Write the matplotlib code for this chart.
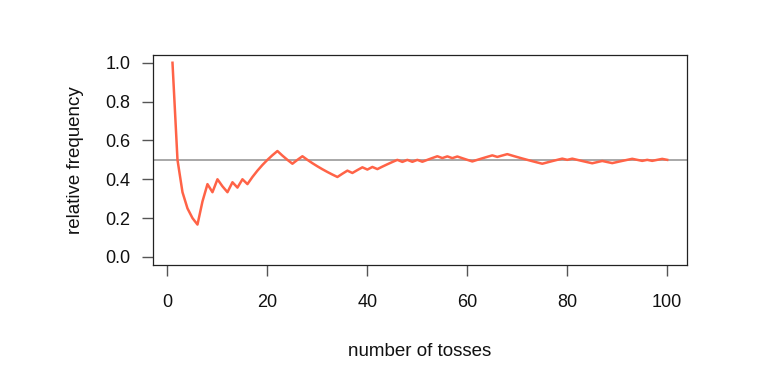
import matplotlib
matplotlib.use("Agg")
import matplotlib.pyplot as plt
import numpy as np

plt.rcParams['font.family'] = ['Liberation Sans', 'DejaVu Sans']

# coin toss outcomes (1 = head, 0 = tail), read from the running frequency
tosses = [1, 0, 0, 0, 0, 0, 1, 1, 0, 1,
          0, 0, 1, 0, 1, 0, 1, 1, 1, 1,
          1, 1, 0, 0, 0, 1, 1, 0, 0, 0,
          0, 0, 0, 0, 1, 1, 0, 1, 1, 0,
          1, 0, 1, 1, 1, 1, 0, 1, 0, 1,
          0, 1, 1, 1, 0, 1, 0, 1, 0, 0,
          0, 1, 1, 1, 1, 0, 1, 1, 0, 0,
          0, 0, 0, 0, 0, 1, 1, 1, 1, 0,
          1, 0, 0, 0, 0, 1, 1, 0, 0, 1,
          1, 1, 1, 0, 0, 1, 0, 1, 1, 0]
n_tosses = np.arange(1, len(tosses) + 1)
rel_freq = np.cumsum(tosses) / n_tosses

x_ticks = [0, 20, 40, 60, 80, 100]
y_ticks = [0.0, 0.2, 0.4, 0.6, 0.8, 1.0]
y_ticklabels = ["0.0", "0.2", "0.4", "0.6", "0.8", "1.0"]

fig = plt.figure(figsize=(7.76, 3.75), dpi=100)
W, H = 776, 375
left, right, top, bottom = 152.7, 687, 55, 264.7
ax = fig.add_axes([left / W, 1 - bottom / H, (right - left) / W, (bottom - top) / H])

ax.axhline(0.5, color='#999999', lw=1.2, zorder=1)
ax.plot(n_tosses, rel_freq, color='#FF6347', lw=1.8, zorder=2)

ax.set_xlim(-2.96, 103.96)
ax.set_ylim(-0.04, 1.04)
ax.set_xticks(x_ticks)
ax.set_yticks(y_ticks)
ax.set_yticklabels(y_ticklabels)
ax.tick_params(axis='both', direction='out', length=8, width=1, color='#555555',
               labelsize=13, labelcolor='#111111')
ax.tick_params(axis='x', pad=13)
ax.tick_params(axis='y', pad=8)
for s in ax.spines.values():
    s.set_color('#222222')
    s.set_linewidth(0.9)

fig.text(420 / W, 1 - 351 / H, "number of tosses", ha='center', va='center',
         fontsize=13.5, color='#111111')
fig.text(76 / W, 1 - 160 / H, "relative frequency", ha='center', va='center',
         rotation=90, fontsize=13.5, color='#111111')

fig.savefig("out.png", dpi=100)
